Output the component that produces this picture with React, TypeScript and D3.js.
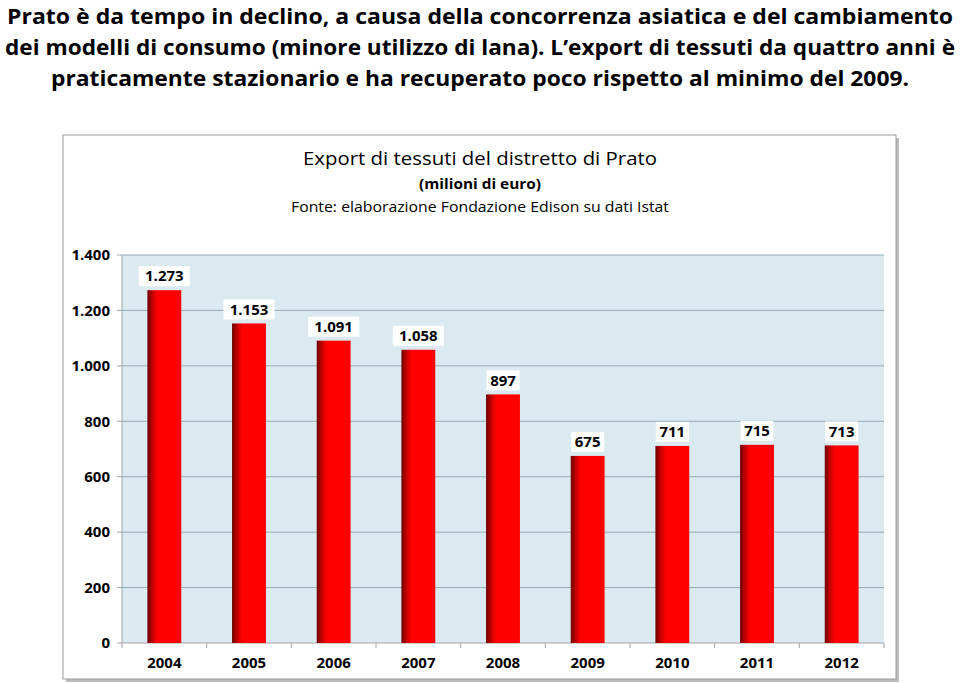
import React from "react";
import * as d3 from "d3";

const years = ["2004", "2005", "2006", "2007", "2008", "2009", "2010", "2011", "2012"];
const exportValues = [1273, 1153, 1091, 1058, 897, 675, 711, 715, 713];
const yTicks = [0, 200, 400, 600, 800, 1000, 1200, 1400];
const headlineLines = [
  "Prato è da tempo in declino, a causa della concorrenza asiatica e del cambiamento",
  "dei modelli di consumo (minore utilizzo di lana). L’export di tessuti da quattro anni è",
  "praticamente stazionario e ha recuperato poco rispetto al minimo del 2009.",
];
const headlineWidths = [946, 950, 858];
const chartTitle = "Export di tessuti del distretto di Prato";
const chartSubtitle = "(milioni di euro)";
const chartSource = "Fonte: elaborazione Fondazione Edison su dati Istat";

const locale = d3.formatLocale({ decimal: ",", thousands: ".", grouping: [3], currency: ["€", ""] });
const fmt = locale.format(",d");

export default function App() {
  const W = 960, H = 683;
  const left = 122, right = 884, top = 255, bottom = 643;
  const x = d3.scaleBand<string>().domain(years).range([left, right]).paddingInner(0.6).paddingOuter(0.3);
  const xb = d3.scaleBand<string>().domain(years).range([left, right]);
  const y = d3.scaleLinear().domain([0, 1400]).range([bottom, top]);
  const font = "'Open Sans', 'DejaVu Sans', sans-serif";

  return (
    <svg width={W} height={H} style={{ position: "absolute", left: 0, top: 0 }} fontFamily={font}>
      <defs>
        <linearGradient id="barGrad" x1="0" x2="1" y1="0" y2="0">
          <stop offset="0" stopColor="#6e0000" />
          <stop offset="0.18" stopColor="#d00000" />
          <stop offset="0.3" stopColor="#ff0000" />
          <stop offset="1" stopColor="#ff0000" />
        </linearGradient>
      </defs>
      <rect width={W} height={H} fill="#fff" />
      {headlineLines.map((t, i) => (
        <text key={i} x={480} y={24 + i * 31} textAnchor="middle" fontSize={21} fontWeight="bold"
          textLength={headlineWidths[i]} lengthAdjust="spacingAndGlyphs" fill="#000">{t}</text>
      ))}
      {/* chart box */}
      <rect x={66} y={138} width={833} height={544} fill="#bdbdbd" />
      <rect x={63} y={135} width={833} height={544} fill="#fff" stroke="#9a9a9a" strokeWidth={1} />
      <text x={480} y={165} textAnchor="middle" fontSize={19} fill="#000" textLength={354} lengthAdjust="spacingAndGlyphs">{chartTitle}</text>
      <text x={480} y={189} textAnchor="middle" fontSize={14} fontWeight="bold" fill="#000" textLength={122} lengthAdjust="spacingAndGlyphs">{chartSubtitle}</text>
      <text x={480} y={212} textAnchor="middle" fontSize={15} fill="#000" textLength={378} lengthAdjust="spacingAndGlyphs">{chartSource}</text>
      {/* plot area */}
      <rect x={left} y={top} width={right - left} height={bottom - top} fill="#dbeaf1" />
      {yTicks.map((t) => (
        <g key={t}>
          <line x1={left - 5} x2={right} y1={y(t)} y2={y(t)} stroke={t === 0 ? "#a6a6a6" : "#94aab8"} strokeWidth={1} />
          <text x={110} y={y(t)} dy="0.35em" textAnchor="end" fontSize={15} fontWeight="bold" fill="#000">{fmt(t)}</text>
        </g>
      ))}
      <line x1={left} x2={left} y1={top} y2={bottom} stroke="#a6a6a6" />
      {years.map((yr) => (
        <line key={"t" + yr} x1={xb(yr)!} x2={xb(yr)!} y1={bottom} y2={bottom + 5} stroke="#a6a6a6" />
      ))}
      <line x1={right} x2={right} y1={bottom} y2={bottom + 5} stroke="#a6a6a6" />
      {years.map((yr, i) => {
        const v = exportValues[i];
        const bx = x(yr)!;
        const bw = x.bandwidth();
        const label = fmt(v);
        const lw = label.length * 9 + 6;
        const cx = bx + bw / 2;
        const ly = y(v) - 14;
        return (
          <g key={yr}>
            <rect x={bx} y={y(v)} width={bw} height={bottom - y(v)} fill="url(#barGrad)" />
            <rect x={cx - lw / 2} y={ly - 10} width={lw} height={20} fill="#fff" />
            <text x={cx} y={ly} dy="0.35em" textAnchor="middle" fontSize={15} fontWeight="bold" fill="#000">{label}</text>
            <text x={xb(yr)! + xb.bandwidth() / 2} y={663} dy="0.35em" textAnchor="middle" fontSize={15} fontWeight="bold" fill="#000">{yr}</text>
          </g>
        );
      })}
    </svg>
  );
}
